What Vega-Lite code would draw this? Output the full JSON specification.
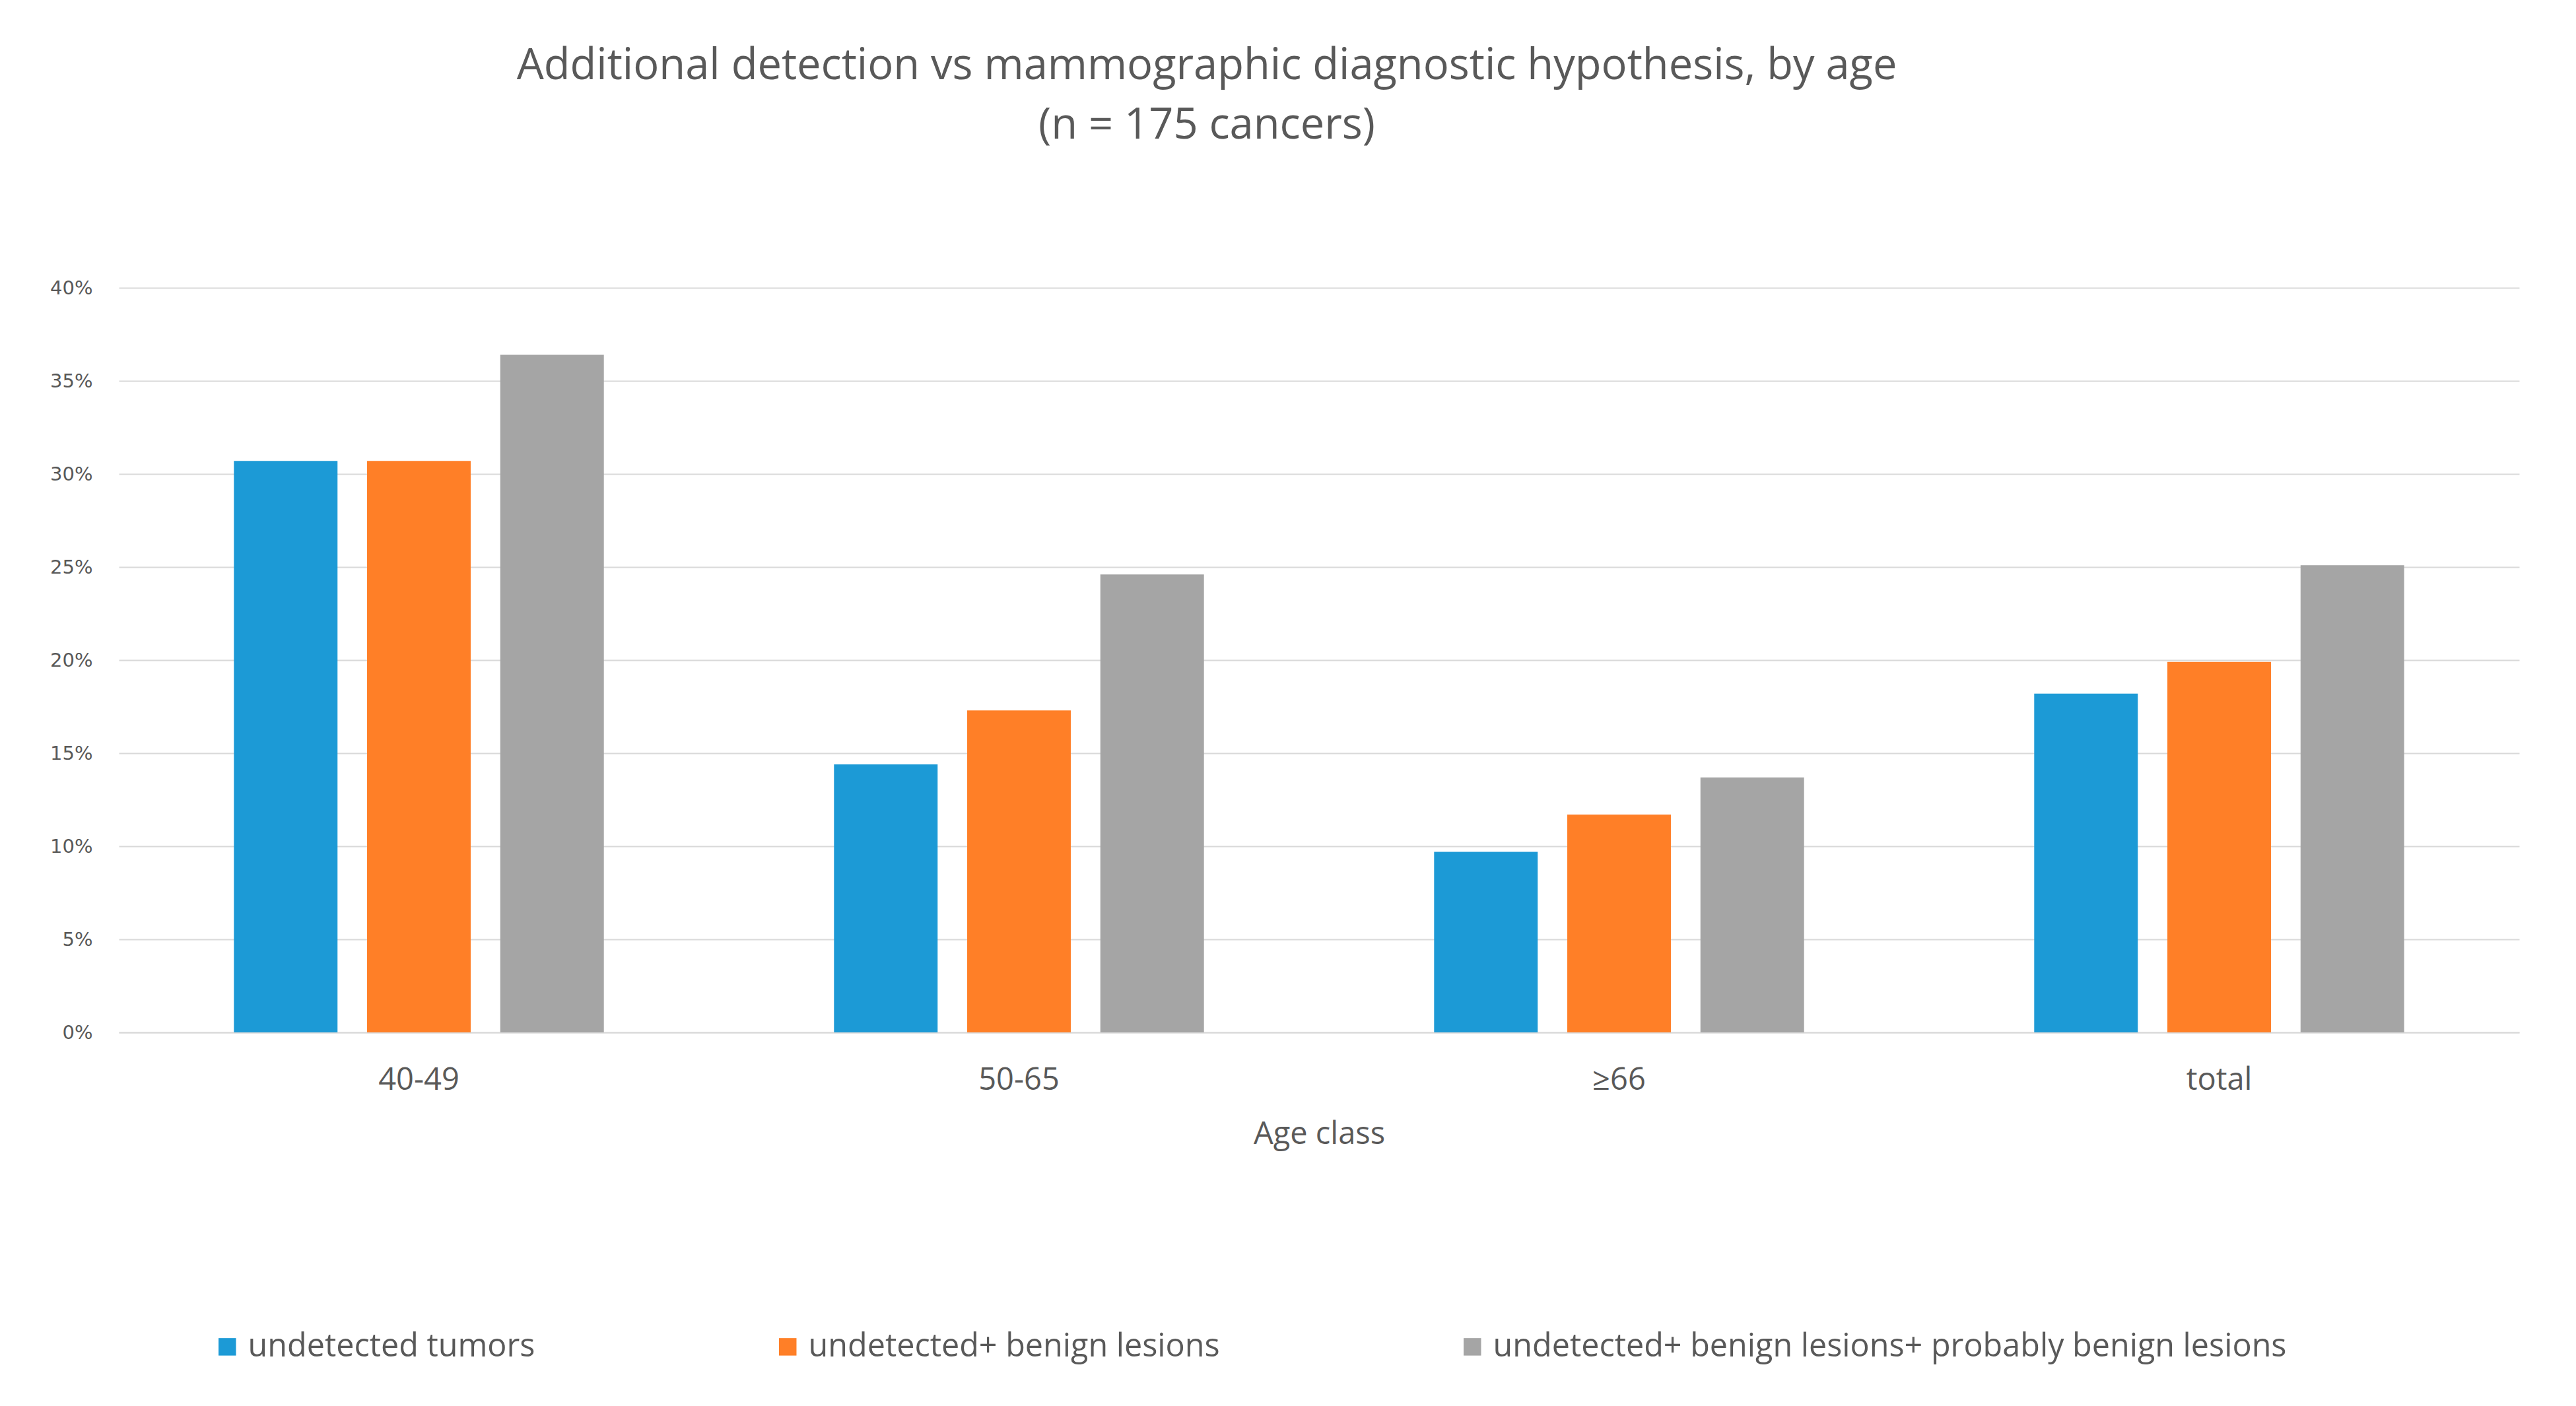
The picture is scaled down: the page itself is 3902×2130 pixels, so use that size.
{
  "$schema": "https://vega.github.io/schema/vega-lite/v6.json",
  "autosize": {"type": "none"},
  "width": 3636,
  "height": 1128,
  "padding": {"left": 180, "top": 436, "right": 86, "bottom": 566},
  "background": "white",
  "title": {
    "text": "Additional detection vs mammographic diagnostic hypothesis, by age",
    "subtitle": "(n = 175 cancers)",
    "anchor": "middle",
    "frame": "group",
    "dx": -170,
    "offset": 198,
    "font": "Open Sans",
    "fontSize": 65,
    "fontWeight": "normal",
    "color": "#595959",
    "subtitleFont": "Open Sans",
    "subtitleFontSize": 65,
    "subtitleColor": "#595959",
    "subtitlePadding": 25
  },
  "data": {
    "values": [
      {"age": "40-49", "series": "undetected tumors", "value": 0.307},
      {"age": "40-49", "series": "undetected+ benign lesions", "value": 0.307},
      {"age": "40-49", "series": "undetected+ benign lesions+ probably benign lesions", "value": 0.364},
      {"age": "50-65", "series": "undetected tumors", "value": 0.144},
      {"age": "50-65", "series": "undetected+ benign lesions", "value": 0.173},
      {"age": "50-65", "series": "undetected+ benign lesions+ probably benign lesions", "value": 0.246},
      {"age": "≥66", "series": "undetected tumors", "value": 0.097},
      {"age": "≥66", "series": "undetected+ benign lesions", "value": 0.117},
      {"age": "≥66", "series": "undetected+ benign lesions+ probably benign lesions", "value": 0.137},
      {"age": "total", "series": "undetected tumors", "value": 0.182},
      {"age": "total", "series": "undetected+ benign lesions", "value": 0.199},
      {"age": "total", "series": "undetected+ benign lesions+ probably benign lesions", "value": 0.251}
    ]
  },
  "mark": {"type": "bar"},
  "encoding": {
    "x": {
      "field": "age",
      "type": "nominal",
      "sort": ["40-49", "50-65", "≥66", "total"],
      "scale": {"paddingInner": 0, "paddingOuter": 0},
      "axis": {
        "title": "Age class",
        "labelAngle": 0,
        "labelFont": "Open Sans",
        "labelFontSize": 47,
        "labelColor": "#595959",
        "labelPadding": 49,
        "titleFont": "Open Sans",
        "titleFontSize": 47,
        "titleFontWeight": "normal",
        "titleColor": "#595959",
        "titlePadding": 36,
        "ticks": false,
        "domainColor": "#D9D9D9",
        "domainWidth": 2,
        "grid": false
      }
    },
    "xOffset": {
      "field": "series",
      "type": "nominal",
      "sort": ["undetected tumors", "undetected+ benign lesions", "undetected+ benign lesions+ probably benign lesions"],
      "scale": {"paddingInner": 0.222, "paddingOuter": 0.864}
    },
    "y": {
      "field": "value",
      "type": "quantitative",
      "scale": {"domain": [0, 0.4]},
      "axis": {
        "title": null,
        "format": ".0%",
        "values": [0, 0.05, 0.1, 0.15, 0.2, 0.25, 0.3, 0.35, 0.4],
        "labelFont": "DejaVu Sans",
        "labelFontSize": 29,
        "labelColor": "#595959",
        "labelPadding": 40,
        "ticks": false,
        "domain": false,
        "gridColor": "#D9D9D9",
        "gridWidth": 2
      }
    },
    "color": {
      "field": "series",
      "type": "nominal",
      "scale": {
        "domain": ["undetected tumors", "undetected+ benign lesions", "undetected+ benign lesions+ probably benign lesions"],
        "range": ["#1C9AD6", "#FF7F27", "#A5A5A5"]
      },
      "legend": {
        "title": null,
        "orient": "none",
        "direction": "horizontal",
        "legendX": 140,
        "legendY": 1580,
        "symbolType": "square",
        "symbolSize": 700,
        "symbolStrokeWidth": 0,
        "labelFont": "Open Sans",
        "labelFontSize": 48.5,
        "labelColor": "#595959",
        "labelOffset": 7,
        "labelLimit": 0,
        "columnPadding": 358
      }
    }
  },
  "config": {
    "view": {"stroke": null}
  }
}
